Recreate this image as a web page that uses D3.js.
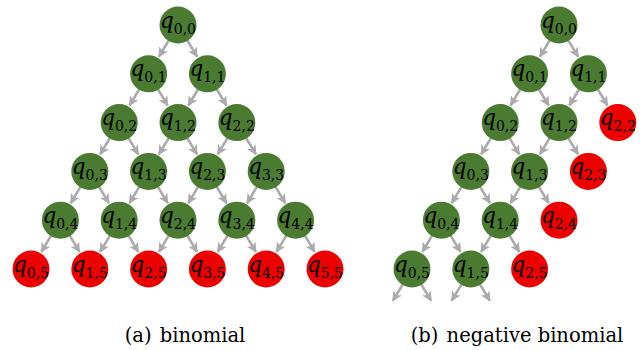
<!DOCTYPE html>
<html>
<head>
<meta charset="utf-8">
<script src="https://cdn.jsdelivr.net/npm/d3@7/dist/d3.min.js"></script>
<style>
  html, body { margin: 0; padding: 0; background: #fff; }
  svg { display: block; }
  svg text { font-family: "DejaVu Serif", serif; }
</style>
</head>
<body>
<svg id="chart" width="641" height="350"></svg>
<script>
// Lattice nodes: [i, k, state]; "open" nodes continue, "stop" nodes are absorbing.
const binomialNodes = [
  [0,0,"open"],
  [0,1,"open"],[1,1,"open"],
  [0,2,"open"],[1,2,"open"],[2,2,"open"],
  [0,3,"open"],[1,3,"open"],[2,3,"open"],[3,3,"open"],
  [0,4,"open"],[1,4,"open"],[2,4,"open"],[3,4,"open"],[4,4,"open"],
  [0,5,"stop"],[1,5,"stop"],[2,5,"stop"],[3,5,"stop"],[4,5,"stop"],[5,5,"stop"]
];
const negBinomialNodes = [
  [0,0,"open"],
  [0,1,"open"],[1,1,"open"],
  [0,2,"open"],[1,2,"open"],[2,2,"stop"],
  [0,3,"open"],[1,3,"open"],[2,3,"stop"],
  [0,4,"open"],[1,4,"open"],[2,4,"stop"],
  [0,5,"open"],[1,5,"open"],[2,5,"stop"]
];
const captions = ["(a)", "binomial", "(b)", "negative binomial"];
const depthDomain = [0, 5];

const colors = { open: "#4a7b30", stop: "#ec0000", edge: "#ababab" };
const R = 18.5;

const svg = d3.select("#chart");

const defs = svg.append("defs");
defs.append("marker")
  .attr("id", "head")
  .attr("viewBox", "0 0 10 10")
  .attr("refX", 9).attr("refY", 5)
  .attr("markerUnits", "userSpaceOnUse")
  .attr("markerWidth", 10).attr("markerHeight", 10)
  .attr("orient", "auto")
  .append("path")
  .attr("d", "M0,0 L10,5 L0,10 L2.5,5 Z")
  .attr("fill", colors.edge);

const y = d3.scaleLinear().domain(depthDomain).range([25, 269]);

function drawPanel(nodes, cx, caption, subcaption, capX) {
  // horizontal position from the lattice offset 2i - k
  const x = d3.scaleLinear().domain([-5, 5]).range([cx - 5 * 29.4, cx + 5 * 29.4]);
  const g = svg.append("g");

  const edges = [];
  nodes.filter(d => d[2] === "open").forEach(([i, k]) => {
    edges.push({ i, k, ci: i, ck: k + 1 });
    edges.push({ i, k, ci: i + 1, ck: k + 1 });
  });

  g.selectAll("line.edge").data(edges).join("line")
    .attr("class", "edge")
    .each(function (e) {
      const x1 = x(2 * e.i - e.k), y1 = y(e.k);
      const x2 = x(2 * e.ci - e.ck), y2 = y(e.ck);
      const dx = x2 - x1, dy = y2 - y1, L = Math.hypot(dx, dy);
      const s = (R - 1) / L, t = (L - R - 1.5) / L;
      d3.select(this)
        .attr("x1", x1 + dx * s).attr("y1", y1 + dy * s)
        .attr("x2", x1 + dx * t).attr("y2", y1 + dy * t);
    })
    .attr("stroke", colors.edge)
    .attr("stroke-width", 2.6)
    .attr("marker-end", "url(#head)");

  const nodeG = g.selectAll("g.node").data(nodes).join("g")
    .attr("class", "node")
    .attr("transform", d => `translate(${x(2 * d[0] - d[1])},${y(d[1])})`);

  nodeG.append("circle")
    .attr("r", R)
    .attr("fill", d => colors[d[2]]);

  const label = nodeG.append("text")
    .attr("text-anchor", "middle")
    .attr("fill", "#000")
    .attr("y", 2.5);
  label.append("tspan")
    .attr("font-style", "italic")
    .attr("font-size", 21.5)
    .text("q");
  label.append("tspan")
    .attr("font-size", 14)
    .attr("dy", 6)
    .text(d => `${d[0]},${d[1]}`);

  const cap = svg.append("text")
    .attr("x", capX).attr("y", 342)
    .attr("text-anchor", "middle")
    .attr("font-size", 19.5)
    .attr("fill", "#000");
  cap.append("tspan").text(caption);
  cap.append("tspan").attr("dx", 2).text(" " + subcaption);
}

drawPanel(binomialNodes, 178, captions[0], captions[1], 185);
drawPanel(negBinomialNodes, 559, captions[2], captions[3], 517);
</script>
</body>
</html>
